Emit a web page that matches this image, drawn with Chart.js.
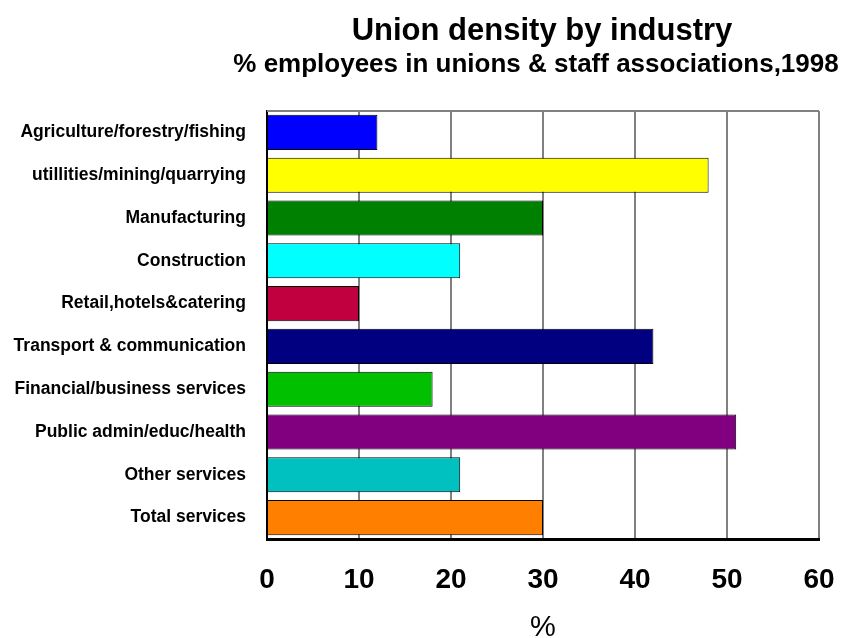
<!DOCTYPE html>
<html lang="en">
<head>
    <meta charset="UTF-8">
    <title>Union density by industry</title>
    <script src="https://cdn.jsdelivr.net/npm/chart.js"></script>
    <style>
        html, body {
            margin: 0;
            padding: 0;
            background-color: #fff;
        }
        .chart-container {
            position: relative;
            width: 843px;
            height: 638px;
        }
    </style>
</head>
<body>
    <div class="chart-container">
        <canvas id="densityChart"></canvas>
    </div>

    <script>
        const industries = [
            'Agriculture/forestry/fishing',
            'utillities/mining/quarrying',
            'Manufacturing',
            'Construction',
            'Retail,hotels&catering',
            'Transport & communication',
            'Financial/business services',
            'Public admin/educ/health',
            'Other services',
            'Total services'
        ];
        const density = [12, 48, 30, 21, 10, 42, 18, 51, 21, 30];
        const barColors = [
            '#0000FF', '#FFFF00', '#008000', '#00FFFF', '#C0003F',
            '#000080', '#00C000', '#800080', '#00C0C0', '#FF8000'
        ];
        const xTicks = [0, 10, 20, 30, 40, 50, 60];

        const titleText = 'Union density by industry';
        const subtitleText = '% employees in unions & staff associations,1998';
        const fontFamily = "'Liberation Sans', Arial, sans-serif";

        // titles are centred over the plot, not the canvas, so draw them here
        const headerPlugin = {
            id: 'header',
            afterDraw(chart) {
                const { ctx, chartArea } = chart;
                const mid = (chartArea.left + chartArea.right) / 2;
                ctx.save();
                ctx.fillStyle = '#000';
                ctx.textAlign = 'center';
                ctx.textBaseline = 'alphabetic';
                ctx.font = 'bold 31px ' + fontFamily;
                ctx.fillText(titleText, mid - 1, 40);
                ctx.font = 'bold 26px ' + fontFamily;
                ctx.fillText(subtitleText, mid - 7, 72);
                // top edge of the plot frame
                ctx.strokeStyle = '#808080';
                ctx.lineWidth = 2;
                ctx.beginPath();
                ctx.moveTo(chartArea.left, chartArea.top);
                ctx.lineTo(chartArea.right, chartArea.top);
                ctx.stroke();
                ctx.restore();
            }
        };

        const config = {
            type: 'bar',
            data: {
                labels: industries,
                datasets: [{
                    data: density,
                    backgroundColor: barColors,
                    borderColor: '#000',
                    borderWidth: 1,
                    barPercentage: 0.82,
                    categoryPercentage: 1
                }]
            },
            options: {
                indexAxis: 'y',
                responsive: true,
                maintainAspectRatio: false,
                animation: false,
                layout: {
                    padding: { top: 111, right: 24, bottom: 0, left: 0 }
                },
                plugins: {
                    legend: { display: false },
                    title: { display: false },
                    tooltip: { enabled: false }
                },
                scales: {
                    x: {
                        min: xTicks[0],
                        max: xTicks[xTicks.length - 1],
                        afterFit(scale) {
                            scale.height = 99;
                            scale.paddingLeft = 0;
                            scale.paddingRight = 0;
                        },
                        afterBuildTicks(scale) {
                            scale.ticks = xTicks.map(v => ({ value: v }));
                        },
                        grid: {
                            color: '#808080',
                            lineWidth: 2,
                            drawTicks: false
                        },
                        border: { color: '#000', width: 3 },
                        ticks: {
                            padding: 24,
                            color: '#000',
                            font: { family: fontFamily, size: 28, weight: 'bold' }
                        },
                        title: {
                            display: true,
                            text: '%',
                            color: '#000',
                            padding: { top: 0, bottom: -4 },
                            font: { family: fontFamily, size: 29, lineHeight: 1 }
                        }
                    },
                    y: {
                        afterFit(scale) { scale.width = 267; },
                        grid: { display: false, drawTicks: false },
                        border: { color: '#000', width: 2 },
                        ticks: {
                            padding: 21,
                            color: '#000',
                            autoSkip: false,
                            font: { family: fontFamily, size: 17.5, weight: 'bold' }
                        }
                    }
                }
            },
            plugins: [headerPlugin]
        };

        var densityChart = new Chart(
            document.getElementById('densityChart'),
            config
        );
    </script>
</body>
</html>
